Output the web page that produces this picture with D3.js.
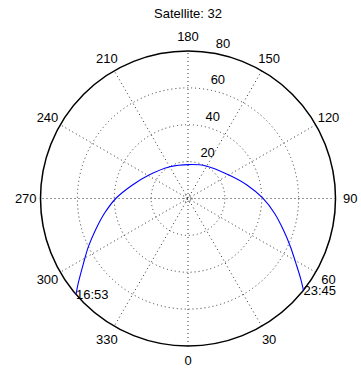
<!DOCTYPE html>
<html>
<head>
<meta charset="utf-8">
<script src="https://cdn.jsdelivr.net/npm/d3@7"></script>
<style>
body{margin:0;background:#fff;}
text{font-family:"Liberation Sans",Arial,sans-serif;font-size:13px;fill:#000;}
</style>
</head>
<body>
<script>
const WIDTH=361, HEIGHT=371;
const CX=188, CY=198.5, R=147.5;
const RMAX=80;

// satellite track: azimuth (deg) and radial value
const azimuth=[310.6,307.6,301.8,295.8,288.8,280.05,269.8,256.3,238.9,209.5,178.3,151.0,119.8,102.9,90.2,80.3,71.7,64.8,59.0,54.2,51.5];
const radial=[80,75.1,66.7,60.0,53.0,46.0,39.05,31.0,24.7,19.8,18.4,20.2,25.6,32.8,40.6,47.6,54.5,61.4,68.3,75.6,80];
const timeLabels=["16:53","23:45"];

const ringValues=[20,40,60];
const ringLabels=[20,40,60,80];
const spokeAngles=[0,30,60,90,120,150];
const angleLabels=[0,30,60,90,120,150,180,210,240,270,300,330];
const title="Satellite: 32";

let rScale=d3.scaleLinear().domain([0,RMAX]).range([0,R]);
let rad=d=>d*Math.PI/180;
// 0 at bottom, increasing counterclockwise on screen
let px=(a,r)=>CX+rScale(r)*Math.sin(rad(a));
let py=(a,r)=>CY+rScale(r)*Math.cos(rad(a));

function main(){
    let svg=d3.select("body").append("svg")
        .attr("width",WIDTH).attr("height",HEIGHT);

    svg.append("text")
        .attr("x",CX).attr("y",18)
        .attr("text-anchor","middle")
        .text(title);

    let grid=svg.append("g").attr("id","grid")
        .style("fill","none").style("stroke","#333")
        .style("stroke-width",1).style("stroke-dasharray","1,3");

    grid.selectAll("line").data(spokeAngles).enter().append("line")
        .attr("x1",d=>px(d,RMAX)).attr("y1",d=>py(d,RMAX))
        .attr("x2",d=>px(d+180,RMAX)).attr("y2",d=>py(d+180,RMAX));

    grid.selectAll("circle").data(ringValues.concat([2.2])).enter().append("circle")
        .attr("cx",CX).attr("cy",CY).attr("r",d=>rScale(d));

    svg.append("circle")
        .attr("cx",CX).attr("cy",CY).attr("r",rScale(RMAX))
        .style("fill","none").style("stroke","#000").style("stroke-width",1.5);

    // radial labels at 82 degrees, like matlab polar
    let a82=rad(82);
    svg.selectAll(".rlab").data(ringLabels).enter().append("text")
        .attr("class","rlab")
        .attr("x",d=>CX+rScale(d+1)*Math.cos(a82)+7)
        .attr("y",d=>CY-rScale(d+1)*Math.sin(a82)-3)
        .text(d=>d);

    svg.selectAll(".alab").data(angleLabels).enter().append("text")
        .attr("class","alab")
        .attr("x",d=>px(d,RMAX*1.1))
        .attr("y",d=>py(d,RMAX*1.1))
        .attr("text-anchor","middle")
        .attr("dy","0.35em")
        .text(d=>d);

    let track=azimuth.map((a,i)=>({a:a,r:radial[i]}));
    let line=d3.lineRadial()
        .angle(d=>Math.PI-rad(d.a))
        .radius(d=>rScale(d.r))
        .curve(d3.curveCatmullRom);

    svg.append("path")
        .attr("transform",`translate(${CX},${CY})`)
        .attr("d",line(track))
        .style("fill","none").style("stroke","#0000ff").style("stroke-width",1.1);

    let ends=[track[0],track[track.length-1]];
    svg.selectAll(".tlab").data(ends).enter().append("text")
        .attr("class","tlab")
        .attr("x",d=>px(d.a,d.r))
        .attr("y",d=>py(d.a,d.r))
        .attr("dy","0.35em")
        .text((d,i)=>timeLabels[i]);
}
main();
</script>
</body>
</html>
